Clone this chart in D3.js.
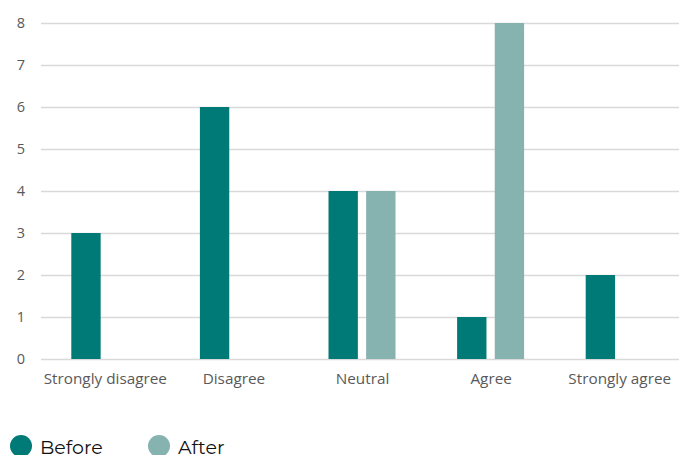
<!DOCTYPE html>
<html><head><meta charset="utf-8">
<script src="https://cdn.jsdelivr.net/npm/d3@7"></script>
<style>body{margin:0;background:#fff;overflow:hidden}svg{display:block}</style>
</head><body>
<script>
const categories = ["Strongly disagree", "Disagree", "Neutral", "Agree", "Strongly agree"];
const seriesNames = ["Before", "After"];
const beforeValues = [3, 6, 4, 1, 2];
const afterValues = [0, 0, 4, 8, 0];
const yTicks = [0, 1, 2, 3, 4, 5, 6, 7, 8];
const colors = ["#007A76", "#86B2AF"];

const W = 679, H = 455;
const svg = d3.select("body").append("svg").attr("width", W).attr("height", H);

const x0 = d3.scaleBand().domain(categories).range([41, 684]).padding(0);
const bw = x0.bandwidth();
const x1 = d3.scaleBand().domain(seriesNames).range([bw/2 - 34, bw/2 + 33]).paddingInner(0.22);
const y = d3.scaleLinear().domain([0, 8]).range([359, 23]);

// grid
const yAxis = d3.axisLeft(y).tickValues(yTicks).tickSize(-(W - 41)).tickPadding(16).tickFormat(d3.format("d"));
const gy = svg.append("g").attr("transform", "translate(41,0)").call(yAxis);
gy.select(".domain").remove();
gy.selectAll(".tick line").attr("stroke", "#D9D9D9").attr("stroke-width", 1.3);
gy.selectAll(".tick text").attr("fill", "#595959").style("font-family", "'Open Sans', Lato, sans-serif").style("font-size", "14.5px");

const data = categories.map((c, i) => ({cat: c, vals: [beforeValues[i], afterValues[i]]}));
const groups = svg.append("g").selectAll("g").data(data).join("g")
  .attr("transform", d => `translate(${x0(d.cat)},0)`);
groups.selectAll("rect").data(d => d.vals.map((v, j) => ({s: seriesNames[j], v, j})).filter(e => e.v > 0))
  .join("rect")
  .attr("x", d => x1(d.s))
  .attr("width", x1.bandwidth())
  .attr("y", d => y(d.v))
  .attr("height", d => y(0) - y(d.v))
  .attr("fill", d => colors[d.j]);

// x axis labels
const xAxis = d3.axisBottom(x0).tickSize(0).tickPadding(14);
const gx = svg.append("g").attr("transform", "translate(0,359)").call(xAxis);
gx.select(".domain").remove();
gx.selectAll(".tick text").attr("fill", "#595959").style("font-family", "'Open Sans', Lato, sans-serif").style("font-size", "15.3px");

// legend
const legendX = [21, 159];
const lg = svg.append("g").selectAll("g").data(seriesNames).join("g")
  .attr("transform", (d, i) => `translate(${legendX[i]},446)`);
lg.append("circle").attr("r", 11).attr("fill", (d, i) => colors[i]);
lg.append("text").attr("x", 19).attr("y", 8).text(d => d)
  .attr("fill", "#111").style("font-family", "Montserrat, 'Open Sans', Lato, sans-serif").style("font-size", "19px");
</script>
</body></html>
